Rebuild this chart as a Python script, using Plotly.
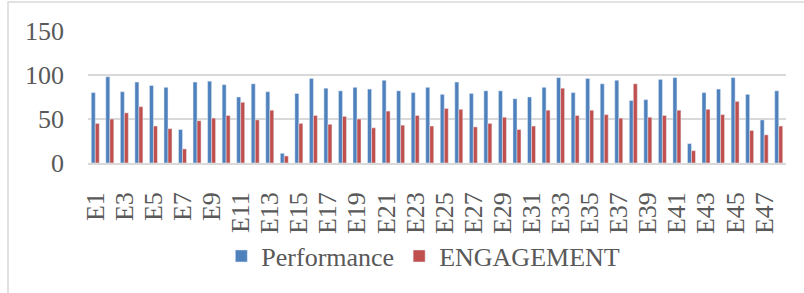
import plotly.graph_objects as go

categories = [f"E{i}" for i in range(1, 49)]
performance = [80, 98, 81, 92, 88, 86, 38, 92, 93, 89, 75, 90, 81, 11, 79, 96, 85, 82, 86, 84,
               94, 82, 80, 86, 78, 92, 79, 82, 82, 73, 75, 86, 97, 80, 96, 90, 94, 71, 72, 95,
               97, 22, 80, 84, 97, 78, 49, 82]
engagement = [45, 50, 57, 64, 42, 39, 16, 48, 51, 54, 69, 49, 60, 8, 45, 54, 44, 53, 50, 40,
              59, 43, 54, 42, 62, 61, 41, 45, 52, 38, 42, 60, 85, 54, 60, 55, 51, 90, 52, 54,
              60, 14, 61, 55, 70, 37, 32, 42]
tick_labels = categories[::2]
y_ticks = [0, 50, 100, 150]

FONT = "Liberation Serif"
GREY = "#595959"

fig = go.Figure()
fig.add_trace(go.Bar(x=categories, y=performance, name="Performance", marker_color="#4F81BD"))
fig.add_trace(go.Bar(x=categories, y=engagement, name="ENGAGEMENT", marker_color="#C0504D"))

fig.update_layout(
    width=804, height=293,
    margin=dict(l=88, r=18, t=31, b=130, autoexpand=False),
    paper_bgcolor="white", plot_bgcolor="white",
    barmode="group", bargap=0.45, bargroupgap=0,
    font=dict(family=FONT, color=GREY, size=26),
    showlegend=True,
    legend=dict(orientation="h", x=0.191, xanchor="left", y=-0.705, yanchor="middle",
                font=dict(size=26, family=FONT, color=GREY), itemwidth=30,
                bgcolor="rgba(0,0,0,0)"),
    shapes=[dict(type="rect", xref="paper", yref="paper",
                 x0=-0.1146, x1=1.2, y0=-2, y1=1.22,
                 line=dict(color="#D9D9D9", width=1.5), fillcolor="rgba(0,0,0,0)", layer="below")],
)
fig.update_xaxes(type="category", tickmode="array", tickvals=tick_labels, ticktext=tick_labels,
                 tickangle=-90, showgrid=False, showline=True, linecolor="#D9D9D9", linewidth=1.5,
                 tickfont=dict(size=26, family=FONT, color=GREY), ticks="", ticklabelstandoff=17,
                 automargin=False)
fig.update_yaxes(range=[0, 150], tickvals=y_ticks, showgrid=True, gridcolor="#D9D9D9", gridwidth=1.5,
                 zeroline=False, showline=False, ticks="", automargin=False,
                 tickfont=dict(size=26, family=FONT, color=GREY), ticklabelstandoff=23)

fig.write_html("out.html", config={"displayModeBar": False},
               post_script="document.body.style.margin='0';document.body.style.overflow='hidden';")
